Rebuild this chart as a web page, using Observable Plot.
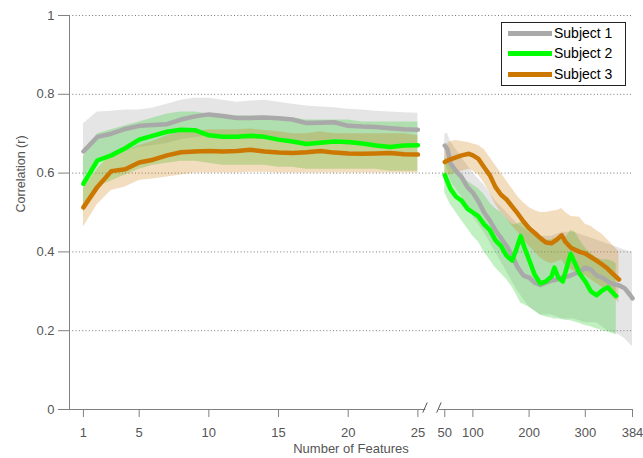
<!DOCTYPE html>
<html><head><meta charset="utf-8">
<script src="https://cdn.jsdelivr.net/npm/d3@7"></script>
<script src="https://cdn.jsdelivr.net/npm/@observablehq/plot@0.6"></script>
<style>
body{margin:0;background:#fff;}
#wrap{position:relative;width:643px;height:458px;font-family:"Liberation Sans",Arial,sans-serif;}
#legend{position:absolute;left:501px;top:22px;width:125px;height:64px;border:1px solid #222;background:#fff;box-sizing:border-box;}
.row{position:absolute;left:6px;height:20px;display:flex;align-items:center;font-size:14px;color:#000;white-space:nowrap;}
.sw{width:44px;height:5px;margin-right:2px;}
</style></head>
<body><div id="wrap"></div>
<script>
// ---- data ----
const seriesNames = ["Subject 1", "Subject 2", "Subject 3"];
const lineColors = ["#a9a9a9", "#00ff00", "#cc7700"];
const bandColors = ["#999999", "#33cc33", "#cc7700"];

const featuresLeft = [1,2,3,4,5,6,7,8,9,10,11,12,13,14,15,16,17,18,19,20,21,22,23,24,25];

const s1LeftMean = [0.655,0.692,0.700,0.712,0.720,0.722,0.724,0.736,0.744,0.749,0.745,0.740,0.740,0.741,0.739,0.736,0.727,0.728,0.729,0.720,0.718,0.717,0.714,0.711,0.710];
const s1LeftHi   = [0.725,0.755,0.757,0.760,0.760,0.765,0.775,0.785,0.790,0.790,0.785,0.780,0.783,0.785,0.780,0.775,0.770,0.768,0.766,0.762,0.760,0.757,0.755,0.753,0.752];
const s1LeftLo   = [0.590,0.630,0.640,0.655,0.665,0.670,0.675,0.685,0.690,0.695,0.690,0.685,0.685,0.685,0.685,0.680,0.675,0.675,0.675,0.670,0.670,0.670,0.665,0.665,0.665];

const s2LeftMean = [0.573,0.632,0.645,0.663,0.685,0.695,0.705,0.710,0.709,0.696,0.692,0.692,0.695,0.692,0.685,0.680,0.674,0.677,0.680,0.679,0.675,0.670,0.666,0.670,0.671];
const s2LeftHi   = [0.640,0.700,0.710,0.720,0.730,0.740,0.750,0.755,0.755,0.750,0.745,0.745,0.745,0.745,0.740,0.740,0.735,0.735,0.735,0.735,0.730,0.730,0.730,0.730,0.730];
const s2LeftLo   = [0.500,0.565,0.580,0.595,0.610,0.620,0.625,0.630,0.630,0.625,0.620,0.620,0.620,0.620,0.615,0.615,0.610,0.610,0.610,0.610,0.610,0.610,0.605,0.605,0.605];

const s3LeftMean = [0.513,0.565,0.605,0.610,0.627,0.634,0.645,0.653,0.655,0.656,0.655,0.656,0.659,0.655,0.652,0.651,0.653,0.656,0.652,0.650,0.649,0.650,0.651,0.648,0.647];
const s3LeftHi   = [0.560,0.610,0.650,0.655,0.670,0.680,0.695,0.705,0.705,0.710,0.710,0.710,0.712,0.708,0.705,0.700,0.700,0.705,0.700,0.700,0.700,0.700,0.700,0.700,0.695];
const s3LeftLo   = [0.463,0.520,0.556,0.565,0.581,0.585,0.590,0.595,0.600,0.600,0.600,0.600,0.602,0.602,0.600,0.600,0.600,0.600,0.600,0.600,0.600,0.600,0.600,0.600,0.600];

const s1RightX    = [50,55,60,70,80,90,100,110,120,130,140,150,160,170,180,190,200,210,220,230,240,250,260,270,280,290,300,310,320,330,340,350,360,370,380,384];
const s1RightMean = [0.670,0.660,0.625,0.605,0.590,0.565,0.550,0.528,0.500,0.480,0.455,0.435,0.415,0.390,0.360,0.340,0.335,0.322,0.316,0.322,0.327,0.330,0.336,0.338,0.344,0.350,0.360,0.355,0.340,0.335,0.325,0.318,0.315,0.308,0.290,0.282];
const s1RightHi   = [0.700,0.700,0.680,0.660,0.640,0.620,0.600,0.585,0.570,0.550,0.530,0.515,0.500,0.485,0.470,0.460,0.450,0.445,0.440,0.440,0.440,0.445,0.450,0.450,0.450,0.445,0.440,0.435,0.430,0.425,0.420,0.415,0.410,0.405,0.400,0.400];
const s1RightLo   = [0.630,0.610,0.580,0.560,0.540,0.515,0.490,0.470,0.450,0.425,0.400,0.375,0.350,0.325,0.300,0.280,0.260,0.250,0.240,0.240,0.240,0.235,0.230,0.230,0.230,0.225,0.220,0.220,0.220,0.210,0.200,0.195,0.190,0.180,0.165,0.160];

const s2RightX    = [50,60,70,80,90,100,110,120,130,140,150,160,170,178,185,192,200,210,220,230,240,245,252,260,267,274,282,290,300,310,320,330,340,350,355];
const s2RightMean = [0.595,0.560,0.540,0.530,0.510,0.500,0.490,0.470,0.456,0.430,0.415,0.390,0.378,0.410,0.440,0.410,0.380,0.342,0.320,0.325,0.338,0.360,0.335,0.325,0.360,0.395,0.370,0.345,0.325,0.300,0.290,0.302,0.310,0.295,0.288];
const s2RightHi   = [0.640,0.620,0.600,0.590,0.580,0.570,0.560,0.545,0.525,0.510,0.500,0.485,0.470,0.470,0.475,0.470,0.455,0.440,0.430,0.430,0.430,0.435,0.430,0.430,0.440,0.455,0.450,0.430,0.410,0.395,0.385,0.380,0.380,0.375,0.370];
const s2RightLo   = [0.550,0.520,0.500,0.480,0.460,0.440,0.425,0.400,0.380,0.360,0.345,0.330,0.310,0.290,0.270,0.265,0.260,0.250,0.240,0.235,0.232,0.230,0.230,0.228,0.226,0.225,0.222,0.218,0.213,0.210,0.205,0.200,0.197,0.192,0.190];

const s3RightX    = [50,60,70,80,93,100,110,120,130,140,150,160,170,180,190,200,210,220,230,240,250,258,265,275,290,300,310,320,330,340,350,360];
const s3RightMean = [0.628,0.635,0.640,0.645,0.649,0.645,0.636,0.615,0.595,0.565,0.545,0.533,0.515,0.497,0.477,0.460,0.448,0.435,0.424,0.422,0.432,0.442,0.425,0.410,0.400,0.396,0.387,0.378,0.368,0.357,0.343,0.330];
const s3RightHi   = [0.670,0.680,0.683,0.680,0.677,0.674,0.670,0.660,0.640,0.620,0.600,0.580,0.560,0.540,0.525,0.513,0.505,0.500,0.500,0.503,0.505,0.510,0.500,0.490,0.488,0.470,0.465,0.454,0.445,0.430,0.415,0.400];
const s3RightLo   = [0.590,0.595,0.600,0.605,0.610,0.605,0.595,0.575,0.550,0.520,0.500,0.485,0.465,0.450,0.430,0.415,0.400,0.385,0.375,0.370,0.375,0.380,0.365,0.355,0.345,0.340,0.330,0.320,0.310,0.300,0.285,0.270];

const xTickValues = [1,5,10,15,20,25,50,100,200,300,384];
const yTickValues = [0,0.2,0.4,0.6,0.8,1];

// ---- broken x scale: left part 1..25 linear, right part 50..384 compressed ----
const BREAK_LEFT = 25, BREAK_RIGHT = 50, GAP = 1.93, RIGHT_K = 0.04033;
const u = x => x <= BREAK_LEFT ? x : BREAK_LEFT + GAP + (x - BREAK_RIGHT) * RIGHT_K;
const uMax = u(384);

function build(i, xL, mL, hL, lL, xR, mR, hR, lR) {
  const rows = [];
  xL.forEach((x, j) => rows.push({s: seriesNames[i], seg: "L", u: u(x), mean: mL[j], hi: hL[j], lo: lL[j]}));
  xR.forEach((x, j) => rows.push({s: seriesNames[i], seg: "R", u: u(x), mean: mR[j], hi: hR[j], lo: lR[j]}));
  return rows;
}
const series = [
  build(0, featuresLeft, s1LeftMean, s1LeftHi, s1LeftLo, s1RightX, s1RightMean, s1RightHi, s1RightLo),
  build(1, featuresLeft, s2LeftMean, s2LeftHi, s2LeftLo, s2RightX, s2RightMean, s2RightHi, s2RightLo),
  build(2, featuresLeft, s3LeftMean, s3LeftHi, s3LeftLo, s3RightX, s3RightMean, s3RightHi, s3RightLo)
];
const bandOpacity = [0.25, 0.3, 0.25];

const tickLabel = new Map(xTickValues.map(v => [u(v), String(v)]));
const axisSegments = [{a: 0, b: BREAK_LEFT + 0.57}, {a: BREAK_LEFT + 1.53, b: uMax}];
const breakMarks = [BREAK_LEFT + 0.35, BREAK_LEFT + 1.35];

const axisColor = "#808080", textColor = "#555";

const chart = Plot.plot({
  width: 643, height: 458,
  marginLeft: 69, marginRight: 11, marginTop: 15, marginBottom: 49,
  style: {fontFamily: "'Liberation Sans', Arial, sans-serif", fontSize: "13px", color: textColor, background: "#fff"},
  x: {domain: [0, uMax]},
  y: {domain: [0, 1]},
  marks: [
    Plot.ruleY(yTickValues.filter(d => d > 0), {stroke: "#777", strokeDasharray: "1,2.3", strokeWidth: 1}),
    ...series.map((d, i) => Plot.areaY(d, {x: "u", y1: "lo", y2: "hi", z: "seg", fill: bandColors[i], fillOpacity: bandOpacity[i]})),
    ...series.map((d, i) => Plot.lineY(d, {x: "u", y: "mean", z: "seg", stroke: lineColors[i], strokeWidth: 4.5})),
    Plot.ruleX([0], {y1: 0, y2: 1, stroke: axisColor}),
    Plot.ruleY(axisSegments, {y: 0, x1: "a", x2: "b", stroke: axisColor}),
    Plot.link(breakMarks, {x1: d => d, x2: d => d + 0.32, y1: -0.008, y2: 0.018, stroke: "#555", strokeWidth: 1}),
    Plot.axisY({ticks: yTickValues, tickFormat: d => String(d), tickSize: 11, tickPadding: 4, label: null, stroke: axisColor}),
    Plot.axisX({ticks: xTickValues.map(u), tickFormat: d => tickLabel.get(d), tickSize: 8, tickPadding: 10, label: null, stroke: axisColor}),
    Plot.text(["Correlation (r)"], {frameAnchor: "left", rotate: -90, dx: -49, fill: textColor, fontSize: 12.5}),
    Plot.text(["Number of Features"], {frameAnchor: "bottom", dy: 43, fill: textColor, fontSize: 13})
  ]
});

const wrap = document.getElementById("wrap");
wrap.appendChild(chart);

const legend = document.createElement("div");
legend.id = "legend";
seriesNames.forEach((name, i) => {
  const row = document.createElement("div");
  row.className = "row";
  row.style.top = [0, 20, 41][i] + "px";
  const sw = document.createElement("span");
  sw.className = "sw";
  sw.style.background = lineColors[i];
  const t = document.createElement("span");
  t.textContent = name;
  row.appendChild(sw); row.appendChild(t);
  legend.appendChild(row);
});
wrap.appendChild(legend);
</script></body></html>
